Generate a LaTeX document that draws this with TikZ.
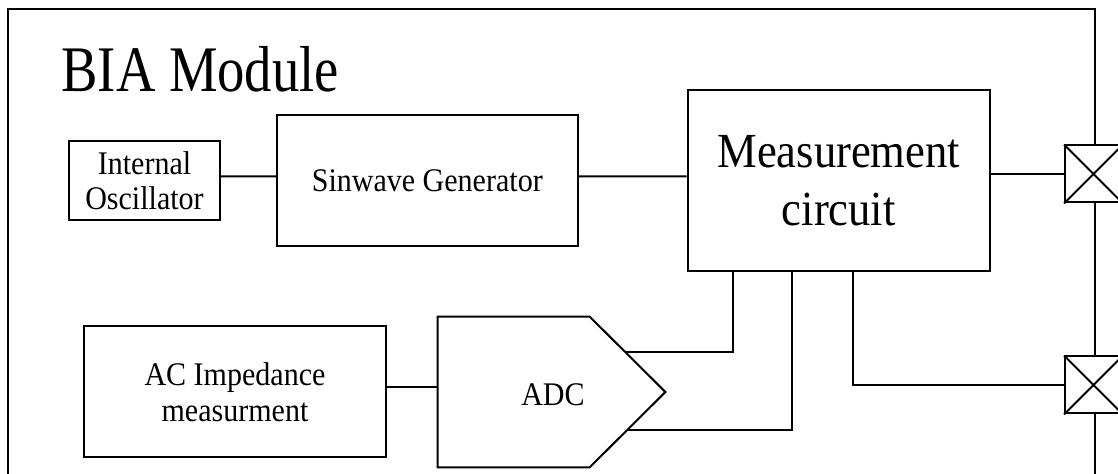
\documentclass[tikz,border=0pt]{standalone}
\usepackage{fontspec}
\setmainfont[FakeStretch=0.91]{Liberation Serif}
\newfontfamily\titlefont[FakeStretch=0.84]{Liberation Serif}
\usetikzlibrary{calc}
\tikzset{
  wire/.style={line width=1pt,draw=black},
  block/.style={draw=black,line width=1pt,fill=white,align=center,inner sep=0pt,
    font=\fontsize{16.5pt}{18pt}\selectfont},
  port/.style={draw=black,line width=1pt,fill=white,minimum size=28.5pt,inner sep=0pt},
}

\begin{document}
\begin{tikzpicture}[x=0.5pt,y=-0.5pt]
  \clip (0,0) rectangle (1118,474);
  % module frame, runs out at the bottom
  \draw[wire] (8,480) -- (8,9) -- (1095,9) -- (1095,480);
  \node[anchor=base west,inner sep=0pt,font=\titlefont\fontsize{32.5pt}{36pt}\selectfont] (title) at (61,92) {BIA Module};

  % blocks
  \node[block,minimum width=75.5pt,minimum height=39.5pt,font=\fontsize{16.5pt}{17.5pt}\selectfont] (osc) at (144.5,180.5) {Internal\\Oscillator};
  \node[block,minimum width=150.5pt,minimum height=65.3pt] (sin) at (427.3,180.4) {Sinwave Generator};
  \node[block,minimum width=151.25pt,minimum height=90.5pt,font=\fontsize{24.5pt}{29pt}\selectfont] (mc) at (838.75,180.5) {Measurement\\circuit};
  \node[block,minimum width=151pt,minimum height=65.5pt] (ac) at (235,392) {AC Impedance\\measurment};
  \node[inner sep=0pt,minimum width=113.5pt,minimum height=75pt] (adc) at (551.5,392) {};
  \draw[wire] (adc.north west) -- ++(152,0) -- (adc.east) -- ($(adc.south west)+(152,0)$) -- (adc.south west) -- cycle;
  \node[anchor=base,inner sep=0pt,font=\fontsize{16.5pt}{18pt}\selectfont] (adc label) at (553,406) {ADC};

  % electrode ports
  \node[port] (p1) at (1093.5,174) {};
  \node[port] (p2) at (1093.5,385) {};
  \foreach \p in {p1,p2}
    \draw[wire] (\p.north west) -- (\p.south east) (\p.north east) -- (\p.south west);

  % connections
  \draw[wire] ([yshift=2pt]osc.east) -- ([yshift=2pt]sin.west);
  \draw[wire] ([yshift=2pt]sin.east) -- ([yshift=2pt]mc.west);
  \draw[wire] (mc.east |- p1.west) -- (p1.west);
  \draw[wire] ([yshift=2.5pt]ac.east) -- ([yshift=2.5pt]adc.west);
  \coordinate (adc up) at ($(adc.east)+(-40,-40)$);
  \coordinate (adc dn) at ($(adc.east)+(-38,38)$);
  \draw[wire] (adc up) -| ($(mc.south west)+(46,0)$);
  \draw[wire] (adc dn) -| ($(mc.south west)+(105.5,0)$);
  \draw[wire] ($(mc.south west)+(166.5,0)$) |- (p2.west);
\end{tikzpicture}
\end{document}
